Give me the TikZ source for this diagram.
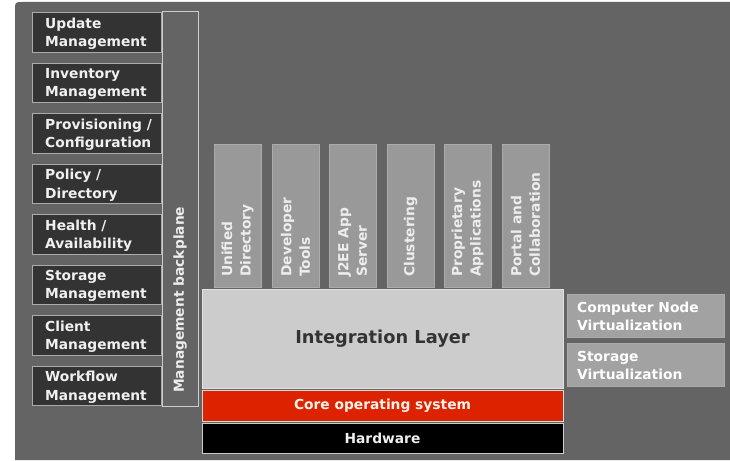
\documentclass[tikz,border=0pt]{standalone}
\usepackage{fontspec}
\setmainfont{DejaVu Sans}
\definecolor{panel}{HTML}{646464}
\definecolor{darkbox}{HTML}{333333}
\definecolor{edge}{HTML}{ABABAB}
\definecolor{colfill}{HTML}{999999}
\definecolor{layer}{HTML}{CCCCCC}
\definecolor{coreos}{HTML}{DD2200}
\definecolor{virt}{HTML}{A2A2A2}
\tikzset{
  basefont/.style={font=\bfseries\fontsize{13.8}{18.5}\selectfont},
  lbox/.style={draw=edge, line width=1pt, fill=darkbox, minimum width=129pt, minimum height=39.5pt, inner sep=0pt},
  ltext/.style={basefont, text=white!94!black, anchor=west, align=left, inner sep=0pt},
  backplane/.style={draw=layer, line width=1pt, fill=panel, minimum width=36pt, minimum height=394pt, inner sep=0pt},
  colbox/.style={draw=edge, line width=1pt, fill=colfill, minimum width=47pt, minimum height=143pt, inner sep=0pt},
  ctext/.style={basefont, text=white!93!black, rotate=90, anchor=west, align=left, inner sep=0pt},
  stackbox/.style={line width=1pt, minimum width=361pt, inner sep=0pt},
  vbox/.style={draw=virt!90!white, line width=0.6pt, fill=virt, minimum width=157pt, minimum height=43pt, inner sep=0pt},
}
\begin{document}
\begin{tikzpicture}[x=1pt,y=-1pt]
\useasboundingbox (0,0) rectangle (730,460);
\fill[white] (0,0) rectangle (730,460);
% grey panel with a rounded top-left corner
\fill[panel] (15,460) -- (15,10) .. controls (15,2) .. (23,2) -- (730,2) -- (730,460) -- cycle;

% management functions
\node[lbox] (b1) at (96.5,32.5) {};
\node[lbox] (b2) at (96.5,83) {};
\node[lbox] (b3) at (96.5,133.5) {};
\node[lbox] (b4) at (96.5,184) {};
\node[lbox] (b5) at (96.5,234.5) {};
\node[lbox] (b6) at (96.5,285) {};
\node[lbox] (b7) at (96.5,335.5) {};
\node[lbox] (b8) at (96.5,386) {};
\node[ltext] (t1) at (45,33.5) {Update\\Management};
\node[ltext] (t2) at (45,84) {Inventory\\Management};
\node[ltext] (t3) at (45,134.5) {Provisioning /\\Configuration};
\node[ltext] (t4) at (45,185) {Policy /\\Directory};
\node[ltext] (t5) at (45,235.5) {Health /\\Availability};
\node[ltext] (t6) at (45,286) {Storage\\Management};
\node[ltext] (t7) at (45,336.5) {Client\\Management};
\node[ltext] (t8) at (45,387) {Workflow\\Management};

% backplane
\node[backplane] (bp) at (180,209) {};
\node[ctext] (bpt) at (180,393) {Management backplane};

% service columns
\node[colbox] (c1) at (237.5,215.5) {};
\node[colbox] (c2) at (295.5,215.5) {};
\node[colbox] (c3) at (352.5,215.5) {};
\node[colbox] (c4) at (410.5,215.5) {};
\node[colbox] (c5) at (467.5,215.5) {};
\node[colbox] (c6) at (525.5,215.5) {};
\node[ctext] (ct1) at (237.5,277) {Unified\\Directory};
\node[ctext] (ct2) at (295.5,277) {Developer\\Tools};
\node[ctext] (ct3) at (352.5,277) {J2EE App\\Server};
\node[ctext] (ct4) at (410.5,277) {Clustering};
\node[ctext] (ct5) at (467.5,277) {Proprietary\\Applications};
\node[ctext] (ct6) at (525.5,277) {Portal and\\Collaboration};

% layer stack
\node[stackbox, draw=layer!60!white, fill=layer, minimum height=99pt, text=darkbox,
      font=\bfseries\fontsize{17.8}{20}\selectfont] (integ) at (382.5,338.5) {Integration Layer};
\node[stackbox, draw=layer!70!white, fill=coreos, minimum height=31pt, text=white!92!orange, basefont] (core) at (382.5,405.5) {Core operating system};
\node[stackbox, draw=layer, fill=black, minimum height=30pt, text=white!94!black, basefont] (hw) at (382.5,438) {Hardware};

% virtualization
\node[vbox] (v1) at (645.5,315.5) {};
\node[vbox] (v2) at (645.5,364.5) {};
\node[ltext, text=white] (vt1) at (577,316.5) {Computer Node\\Virtualization};
\node[ltext, text=white] (vt2) at (577,365.5) {Storage\\Virtualization};
\end{tikzpicture}
\end{document}
